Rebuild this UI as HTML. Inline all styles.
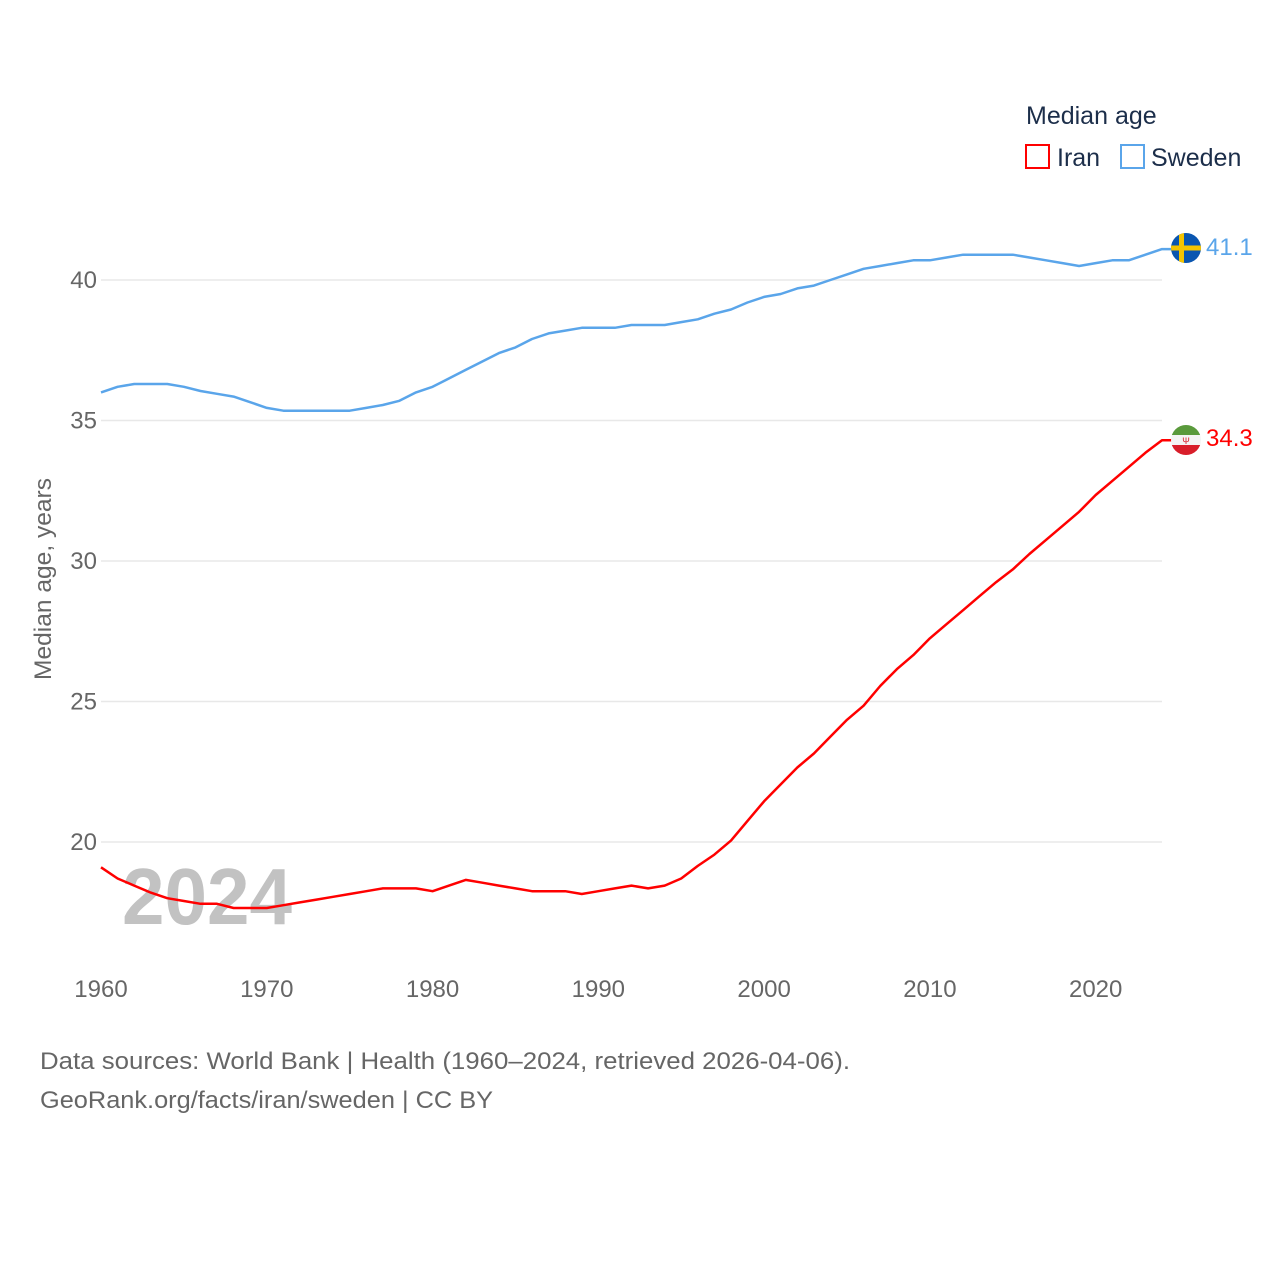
<!DOCTYPE html>
<html><head><meta charset="utf-8"><style>
html,body{margin:0;padding:0;background:#fff;}
svg text{font-family:"Liberation Sans",sans-serif;}
</style></head><body>
<svg width="1280" height="1280" viewBox="0 0 1280 1280" xmlns="http://www.w3.org/2000/svg">
<defs>
<clipPath id="cs"><circle cx="1186" cy="248" r="15"/></clipPath>
<clipPath id="ci"><circle cx="1186" cy="440" r="15"/></clipPath>
</defs>
<g id="grid"></g>
<g id="yt"></g>
<g id="xt"></g>
<text x="122" y="924" font-size="80" font-weight="bold" fill="#c2c2c2" textLength="170" lengthAdjust="spacingAndGlyphs">2024</text>
<text transform="translate(51,680) rotate(-90)" font-size="24" fill="#666" textLength="202" lengthAdjust="spacingAndGlyphs">Median age, years</text>
<g id="series"></g>
<g clip-path="url(#cs)">
<rect x="1171" y="233" width="30" height="30" fill="#0a56b0"/>
<rect x="1171" y="245.5" width="30" height="5" fill="#f5c400"/>
<rect x="1179" y="233" width="5" height="30" fill="#f5c400"/>
</g>
<g clip-path="url(#ci)">
<rect x="1171" y="425" width="30" height="10" fill="#5a9a3c"/>
<rect x="1171" y="435" width="30" height="10" fill="#f4f4f4"/>
<rect x="1171" y="445" width="30" height="10" fill="#d81e2a"/>
<text x="1186" y="444" font-size="9" fill="#d81e2a" text-anchor="middle">Ψ</text>
</g>
<text x="1206" y="255" font-size="24" fill="#5aa5ea">41.1</text>
<text x="1206" y="446" font-size="24" fill="#f00">34.3</text>
<text x="1026" y="124" font-size="25" fill="#1c2e4a">Median age</text>
<rect x="1026" y="145" width="23" height="23" fill="none" stroke="#f00" stroke-width="2"/>
<text x="1057" y="166" font-size="25" fill="#1c2e4a">Iran</text>
<rect x="1121" y="145" width="23" height="23" fill="none" stroke="#5aa5ea" stroke-width="2"/>
<text x="1151" y="166" font-size="25" fill="#1c2e4a">Sweden</text>
<text x="40" y="1069" font-size="24" fill="#666" textLength="810" lengthAdjust="spacingAndGlyphs">Data sources: World Bank | Health (1960–2024, retrieved 2026-04-06).</text>
<text x="40" y="1108" font-size="24" fill="#666" textLength="453" lengthAdjust="spacingAndGlyphs">GeoRank.org/facts/iran/sweden | CC BY</text>
</svg>
<script>
const years=[];for(let y=1960;y<=2024;y++)years.push(y);
const sweden=[36.0,36.2,36.3,36.3,36.3,36.2,36.05,35.95,35.85,35.65,35.45,35.35,35.35,35.35,35.35,35.35,35.45,35.55,35.7,36.0,36.2,36.5,36.8,37.1,37.4,37.6,37.9,38.1,38.2,38.3,38.3,38.3,38.4,38.4,38.4,38.5,38.6,38.8,38.95,39.2,39.4,39.5,39.7,39.8,40.0,40.2,40.4,40.5,40.6,40.7,40.7,40.8,40.9,40.9,40.9,40.9,40.8,40.7,40.6,40.5,40.6,40.7,40.7,40.9,41.1];
const iran=[19.1,18.7,18.45,18.2,18.0,17.9,17.8,17.8,17.65,17.65,17.65,17.75,17.85,17.95,18.05,18.15,18.25,18.35,18.35,18.35,18.25,18.45,18.65,18.55,18.45,18.35,18.25,18.25,18.25,18.15,18.25,18.35,18.45,18.35,18.45,18.7,19.15,19.55,20.05,20.75,21.45,22.05,22.65,23.15,23.75,24.35,24.85,25.55,26.15,26.65,27.25,27.75,28.25,28.75,29.25,29.7,30.25,30.75,31.25,31.75,32.35,32.85,33.35,33.85,34.3];
const yTicks=[20,25,30,35,40];
const xTicks=[1960,1970,1980,1990,2000,2010,2020];
const X=y=>101+(y-1960)*(1162-101)/64;
const Y=v=>842-(v-20)*(842-280)/20;
const NS="http://www.w3.org/2000/svg";
function mk(t,a,p){const e=document.createElementNS(NS,t);for(const k in a)e.setAttribute(k,a[k]);p.appendChild(e);return e;}
const g=document.getElementById('grid'),yt=document.getElementById('yt'),xt=document.getElementById('xt'),s=document.getElementById('series');
yTicks.forEach(v=>{
 const l=mk('line',{x1:101,x2:1162,y1:Y(v),y2:Y(v),stroke:'#e8e8e8','stroke-width':1.5},g);
 
 
 const t=mk('text',{x:97,y:Y(v)+8,'font-size':24,fill:'#666','text-anchor':'end'},yt);t.textContent=v;
 
 
});
xTicks.forEach(v=>{
 const t=mk('text',{x:X(v),y:997,'font-size':24,fill:'#666','text-anchor':'middle'},xt);t.textContent=v;
 
 
});
function line(vals,col,name){
 let d=vals.map((v,i)=>(i?'L':'M')+X(years[i]).toFixed(1)+','+Y(v).toFixed(1)).join(' ');
 d+=' L'+(X(2024)+10)+','+Y(vals[vals.length-1]).toFixed(1);
 const p=mk('path',{d:d,fill:'none',stroke:col,'stroke-width':2.5,'stroke-linejoin':'round'},s);
 
 
}
line(sweden,'#5aa5ea','sweden-line');
line(iran,'#ff0000','iran-line');
</script>
</body></html>
